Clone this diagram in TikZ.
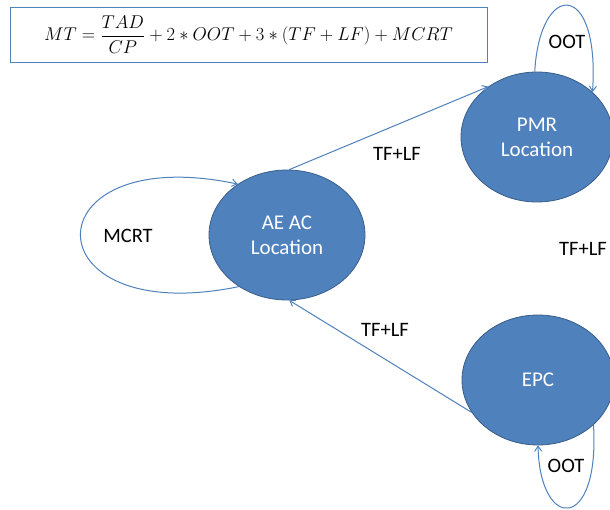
\documentclass[tikz,border=0pt]{standalone}
\usepackage{amsmath}
\usepackage{fontspec}
\setmainfont{Carlito}
\usetikzlibrary{shapes.geometric,arrows.meta}
\definecolor{officeblue}{RGB}{79,129,189}
\definecolor{darkblue}{RGB}{56,93,138}

\begin{document}
\begin{tikzpicture}[x=1pt,y=-1pt]
  \tikzset{place/.style = {shape=ellipse,fill=officeblue,draw=darkblue,line width=0.8pt,
      text=white,align=center,font=\fontsize{21}{25}\selectfont,inner sep=0pt}}
  \tikzset{flow/.style = {draw=officeblue,line width=1pt,-{Straight Barb[length=5pt,width=7pt]}}}
  \tikzset{lbl/.style = {font=\fontsize{20.5}{22}\selectfont,text=black,inner sep=1pt}}

  \clip (0,0) rectangle (610,510);
  \fill[white] (0,0) rectangle (610,510);

	% formula
	\node[draw=officeblue,line width=0.8pt,minimum width=477pt,minimum height=55pt,inner sep=0pt,
	  font=\fontsize{17.28}{22}\selectfont] (formula) at (248.5,34.5)
	  {\scalebox{1.07}{$MT=\dfrac{TAD}{CP}+2*OOT+3*(TF+LF)+MCRT$}};

	\node[place,minimum width=156pt,minimum height=130pt] (ae) at (287,235) {AE AC\\Location};

	\node[place,minimum width=152pt,minimum height=130pt] (pmr) at (537,137) {PMR\\Location};

	\node[place,minimum width=152pt,minimum height=130pt] (epc) at (538,380) {EPC};

	\node[lbl] (l1) at (397,154) {TF+LF};
	\node[lbl] (l2) at (385,330) {TF+LF};
	\node[lbl] (l3) at (583,249) {TF+LF};
	\node[lbl] (l4) at (128,236) {MCRT};
	\node[lbl] (l5) at (567,42) {OOT};
	\node[lbl] (l6) at (566,466) {OOT};

    \foreach \from/\to in {ae.88/pmr.134,epc.206/ae.272}
    \path[flow] (\from) -- (\to);

    \path[flow] (ae.227) .. controls (28,330) and (28,140) .. (ae.134);
    \path[flow] (pmr.92) .. controls (540,-20) and (600,-20) .. (pmr.39);
    \path[flow] (epc.321) .. controls (600,532) and (540,532) .. (epc.south);

\end{tikzpicture}
\end{document}
